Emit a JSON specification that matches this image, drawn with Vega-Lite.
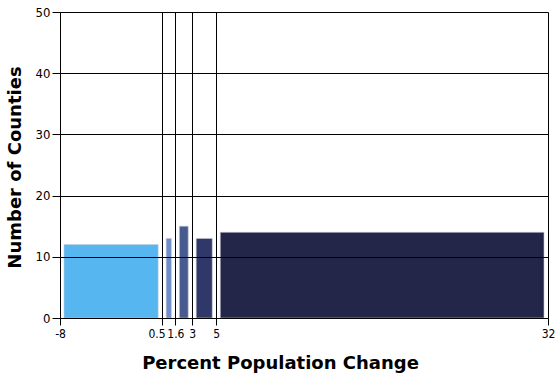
{
  "$schema": "https://vega.github.io/schema/vega-lite/v6.json",
  "width": 488,
  "height": 306,
  "autosize": {"type": "none"},
  "padding": {"left": 60, "top": 12, "right": 11, "bottom": 60},
  "background": "white",
  "data": {
    "values": [
      {"start": -8, "end": 0.5, "count": 12, "group": "A"},
      {"start": 0.5, "end": 1.6, "count": 13, "group": "B"},
      {"start": 1.6, "end": 3, "count": 15, "group": "C"},
      {"start": 3, "end": 5, "count": 13, "group": "D"},
      {"start": 5, "end": 32.6, "count": 14, "group": "E"}
    ]
  },
  "mark": {"type": "bar", "xOffset": 4, "x2Offset": -4, "stroke": "#c9cbd6", "strokeWidth": 0.6},
  "encoding": {
    "x": {
      "field": "start",
      "type": "quantitative",
      "scale": {"domain": [-8, 32.6], "nice": false, "zero": false},
      "axis": {
        "values": [-8, 0.5, 1.6, 3, 5, 32.6],
        "format": "~g",
        "labelExpr": "datum.value > 30 ? '32' : replace(datum.label, '\u2212', '-')",
        "labelAlign": {"condition": {"test": "datum.value == 0.5", "value": "right"}, "value": "center"},
        "labelOffset": {"condition": {"test": "datum.value == 0.5", "value": 3}, "value": 0},
        "title": "Percent Population Change",
        "titleFont": "DejaVu Sans",
        "titleFontWeight": "bold",
        "titleFontSize": 18,
        "titleColor": "black",
        "titleX": 220,
        "titleY": 50,
        "titleBaseline": "alphabetic",
        "titleAnchor": "middle",
        "titleAlign": "center",
        "labelFont": "DejaVu Sans Condensed",
        "labelFontSize": 12,
        "labelColor": "black",
        "labelOverlap": false,
        "labelFlush": false,
        "labelPadding": 3,
        "tickSize": 7,
        "tickColor": "black",
        "domainColor": "black",
        "grid": true,
        "gridColor": "black",
        "gridOpacity": 1,
        "zindex": 1
      }
    },
    "x2": {"field": "end"},
    "y": {
      "field": "count",
      "type": "quantitative",
      "scale": {"domain": [0, 50], "nice": false},
      "axis": {
        "values": [0, 10, 20, 30, 40, 50],
        "title": "Number of Counties",
        "titleFont": "DejaVu Sans",
        "titleFontWeight": "bold",
        "titleFontSize": 18,
        "titleColor": "black",
        "titleAngle": -90,
        "titleX": -45,
        "titleY": 155,
        "titleBaseline": "middle",
        "titleAlign": "center",
        "labelFont": "DejaVu Sans Condensed",
        "labelFontSize": 13,
        "labelColor": "black",
        "labelPadding": 2,
        "tickSize": 8,
        "tickColor": "black",
        "domainColor": "black",
        "grid": true,
        "gridColor": "black",
        "gridOpacity": 1,
        "zindex": 1
      }
    },
    "y2": {"datum": 0},
    "color": {
      "field": "group",
      "type": "nominal",
      "scale": {
        "domain": ["A", "B", "C", "D", "E"],
        "range": ["#55b6f0", "#6e8ec8", "#475b8f", "#2f3868", "#232549"]
      },
      "legend": null
    }
  },
  "config": {"view": {"stroke": null}}
}
